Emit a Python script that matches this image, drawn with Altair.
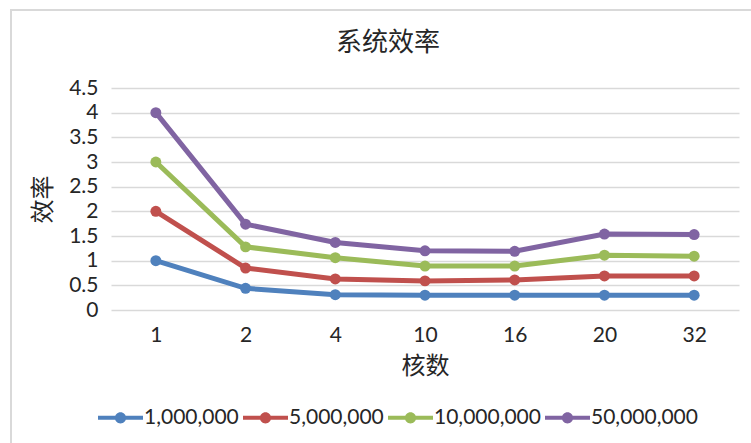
import altair as alt
import pandas as pd

cores = ["1", "2", "4", "10", "16", "20", "32"]
series = ["1,000,000", "5,000,000", "10,000,000", "50,000,000"]
s1 = [1.0, 0.44, 0.31, 0.30, 0.30, 0.30, 0.30]
s2 = [2.0, 0.85, 0.63, 0.59, 0.61, 0.69, 0.69]
s3 = [3.0, 1.28, 1.06, 0.89, 0.89, 1.11, 1.09]
s4 = [4.0, 1.74, 1.37, 1.20, 1.19, 1.54, 1.53]
colors = ["#4F81BD", "#C0504D", "#9BBB59", "#8064A2"]

rows = []
for name, vals in zip(series, [s1, s2, s3, s4]):
    for c, v in zip(cores, vals):
        rows.append({"核数": c, "效率": v, "series": name})
df = pd.DataFrame(rows)

NUM_FONT = "Lato"
CJK_FONT = "Noto Sans CJK SC"
TXT = "#262626"

sym_path = ("M-1,-0.09H1V0.09H-1Z "
            "M0.25,0A0.25,0.25,0,1,1,-0.25,0A0.25,0.25,0,1,1,0.25,0Z")

x_enc = alt.X("核数:N", sort=cores, title="核数",
              scale=alt.Scale(type="point", padding=0.5),
              axis=alt.Axis(labelAngle=0, labelFont=NUM_FONT, labelFontSize=21,
                            labelColor=TXT, labelPadding=14, ticks=False,
                            domain=False, grid=False, titleFont=CJK_FONT,
                            titleFontSize=24, titleFontWeight="normal",
                            titleColor=TXT, titlePadding=9))
y_enc = alt.Y("效率:Q", title="效率",
              scale=alt.Scale(domain=[0, 4.5], nice=False),
              axis=alt.Axis(values=[0, 0.5, 1, 1.5, 2, 2.5, 3, 3.5, 4, 4.5],
                            format="~g",
                            labelFont=NUM_FONT, labelFontSize=21, labelColor=TXT,
                            labelPadding=13, ticks=False, domain=False,
                            gridColor="#d9d9d9", gridWidth=1.5,
                            titleFont=CJK_FONT, titleFontSize=24,
                            titleFontWeight="normal", titleColor=TXT,
                            titlePadding=13))
color_scale = alt.Scale(domain=series, range=colors)

lines = alt.Chart(df).mark_line(
    strokeWidth=5,
    point=alt.OverlayMarkDef(filled=True, size=120, opacity=1),
).encode(
    x=x_enc, y=y_enc,
    color=alt.Color("series:N", scale=color_scale, sort=series,
                    legend=alt.Legend(title=None, orient="none", direction="horizontal",
                                      columns=4, legendX=-13, legendY=307,
                                      symbolType=sym_path, symbolSize=2025,
                                      symbolStrokeWidth=0, symbolOpacity=1,
                                      labelFont=NUM_FONT, labelFontSize=21,
                                      labelColor=TXT, labelOffset=1,
                                      columnPadding=4)),
)

border_left = alt.Chart(df).mark_rule(color="#d9d9d9", strokeWidth=2).encode(
    x=alt.value(-100), y=alt.value(-78), y2=alt.value(360))
border_top = alt.Chart(df).mark_rule(color="#d9d9d9", strokeWidth=2).encode(
    x=alt.value(-101), x2=alt.value(660), y=alt.value(-78))

chart = alt.layer(border_left, border_top, lines).properties(
    width=628, height=222,
    title=alt.TitleParams("系统效率", font=CJK_FONT, fontSize=26, fontWeight="normal",
                          color=TXT, anchor="middle", dx=-37, offset=-47),
    autosize=alt.AutoSizeParams(type="none"),
    padding={"left": 111, "top": 88, "right": 12, "bottom": 133},
).configure_view(stroke=None)

chart.save("out.html", embed_options={"renderer": "svg", "actions": False})
